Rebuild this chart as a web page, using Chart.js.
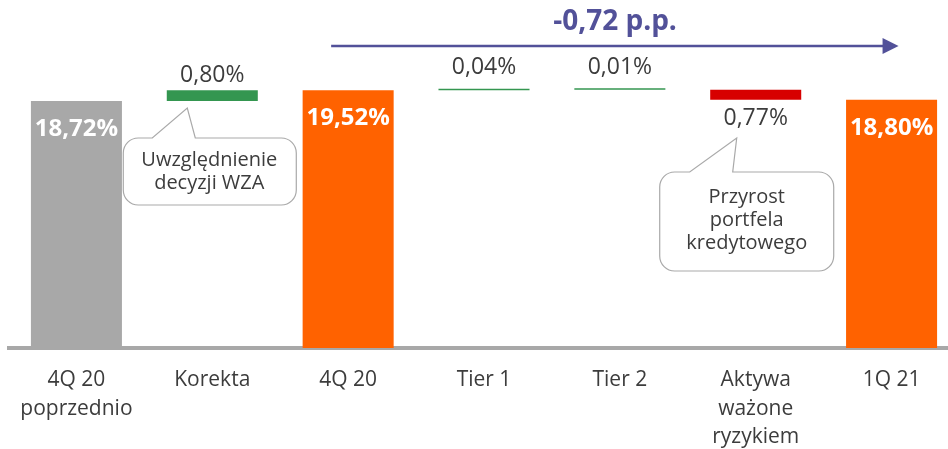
<!DOCTYPE html>
<html>
<head>
<meta charset="utf-8">
<script src="https://cdn.jsdelivr.net/npm/chart.js@4.4.1/dist/chart.umd.min.js"></script>
<style>
html, body { margin: 0; padding: 0; background: #fff; overflow: hidden; }
#wrap { width: 968px; height: 449px; position: relative; }
</style>
</head>
<body>
<div id="wrap"><canvas id="myChart"></canvas></div>
<script>
// dane do wykresu kaskadowego
const labels = [["4Q 20", "poprzednio"], "Korekta", "4Q 20", "Tier 1", "Tier 2", ["Aktywa", "ważone", "ryzykiem"], "1Q 21"];
const startValues = [0, 18.72, 0, 19.52, 19.56, 18.80, 0];
const endValues = [18.72, 19.52, 19.52, 19.56, 19.57, 19.57, 18.80];
const valueLabels = ["18,72%", "0,80%", "19,52%", "0,04%", "0,01%", "0,77%", "18,80%"];
const barKinds = ["total", "up", "total", "up", "up", "down", "total"];
const barColors = ["#a8a8a8", "#349650", "#ff6200", "#349650", "#349650", "#d70000", "#ff6200"];
const totalChange = "-0,72 p.p.";
const noteKorekta = ["Uwzględnienie", "decyzji WZA"];
const noteAktywa = ["Przyrost", "portfela", "kredytowego"];

const FONT = "'Open Sans', 'Noto Sans', sans-serif";
const TEXT = "#3c3c3c";
const PURPLE = "#525199";

// etykiety wartosci przy slupkach
const valueLabelPlugin = {
    id: "valueLabels",
    afterDatasetsDraw(chart) {
        const ctx = chart.ctx;
        const meta = chart.getDatasetMeta(0);
        ctx.save();
        ctx.textAlign = "center";
        ctx.textBaseline = "middle";
        meta.data.forEach((bar, i) => {
            const top = Math.min(bar.y, bar.base);
            const bottom = Math.max(bar.y, bar.base);
            if (barKinds[i] === "total") {
                ctx.fillStyle = "#ffffff";
                ctx.font = "bold 24px " + FONT;
                ctx.fillText(valueLabels[i], bar.x, top + 28);
            } else if (barKinds[i] === "up") {
                ctx.fillStyle = TEXT;
                ctx.font = "23px " + FONT;
                const off = (bottom - top) < 3 ? 21 : 15;
                ctx.fillText(valueLabels[i], bar.x, top - off);
            } else {
                ctx.fillStyle = TEXT;
                ctx.font = "23px " + FONT;
                ctx.fillText(valueLabels[i], bar.x, bottom + 19);
            }
        });
        ctx.restore();
    }
};

function calloutPath(ctx, left, top, w, h, r, baseL, baseR, tipX, tipY) {
    const right = left + w, bottom = top + h;
    ctx.beginPath();
    ctx.moveTo(left + r, top);
    ctx.lineTo(baseL, top);
    ctx.lineTo(tipX, tipY);
    ctx.lineTo(baseR, top);
    ctx.lineTo(right - r, top);
    ctx.arcTo(right, top, right, top + r, r);
    ctx.lineTo(right, bottom - r);
    ctx.arcTo(right, bottom, right - r, bottom, r);
    ctx.lineTo(left + r, bottom);
    ctx.arcTo(left, bottom, left, bottom - r, r);
    ctx.lineTo(left, top + r);
    ctx.arcTo(left, top, left + r, top, r);
    ctx.closePath();
}

// strzalka, podpis zmiany i dymki
const annotationPlugin = {
    id: "annotations",
    afterDraw(chart) {
        const ctx = chart.ctx;
        const x = chart.scales.x;
        ctx.save();

        // strzalka -0,72 p.p.
        const ax0 = x.getPixelForValue(2) - 17;
        const ax1 = x.getPixelForValue(6) + 7;
        const ay = 46;
        ctx.strokeStyle = PURPLE;
        ctx.fillStyle = PURPLE;
        ctx.lineWidth = 2.5;
        ctx.beginPath();
        ctx.moveTo(ax0, ay);
        ctx.lineTo(ax1 - 14, ay);
        ctx.stroke();
        ctx.beginPath();
        ctx.moveTo(ax1 - 16, ay - 8);
        ctx.lineTo(ax1, ay);
        ctx.lineTo(ax1 - 16, ay + 8);
        ctx.closePath();
        ctx.fill();

        ctx.font = "bold 28px " + FONT;
        ctx.textAlign = "center";
        ctx.textBaseline = "middle";
        ctx.fillText(totalChange, 615, 22);

        // dymki
        ctx.lineWidth = 1.2;
        ctx.strokeStyle = "#a9a9a9";
        ctx.fillStyle = "#ffffff";
        const c1 = x.getPixelForValue(1);
        calloutPath(ctx, c1 - 89, 138, 173, 67, 15, c1 - 60, c1 - 17, c1 - 25, 108);
        ctx.fill();
        ctx.stroke();
        const c5 = x.getPixelForValue(5);
        calloutPath(ctx, c5 - 96, 172, 174, 99, 15, c5 - 66, c5 - 23, c5 - 19, 138);
        ctx.fillStyle = "#ffffff";
        ctx.fill();
        ctx.stroke();

        ctx.fillStyle = TEXT;
        ctx.font = "20px " + FONT;
        noteKorekta.forEach((t, i) => ctx.fillText(t, c1 - 3, 160 + i * 23));
        noteAktywa.forEach((t, i) => ctx.fillText(t, c5 - 9, 197 + i * 23));
        ctx.restore();
    }
};

const ctx = document.getElementById("myChart").getContext("2d");
const myChart = new Chart(ctx, {
    type: "bar",
    data: {
        labels: labels,
        datasets: [
            {
                data: startValues.map((s, i) => [s, endValues[i]]),
                backgroundColor: barColors,
                barPercentage: 0.67,
                categoryPercentage: 1,
                minBarLength: 1.5,
                borderSkipped: false,
            },
        ],
    },
    options: {
        responsive: true,
        maintainAspectRatio: false,
        animation: false,
        layout: {
            padding: { left: 8.5, right: 8.5, top: 18, bottom: -20 }
        },
        plugins: {
            legend: { display: false },
            tooltip: { enabled: false },
        },
        scales: {
            x: {
                z: 1,
                grid: { display: false, drawTicks: false },
                border: { display: true, color: "#a8a8a8", width: 4 },
                ticks: {
                    color: TEXT,
                    font: { family: FONT, size: 21, lineHeight: 1.38 },
                    padding: 17,
                    maxRotation: 0,
                    autoSkip: false,
                },
            },
            y: {
                display: false,
                min: 0,
                max: 25,
            },
        },
    },
    plugins: [valueLabelPlugin, annotationPlugin],
});
</script>
</body>
</html>
